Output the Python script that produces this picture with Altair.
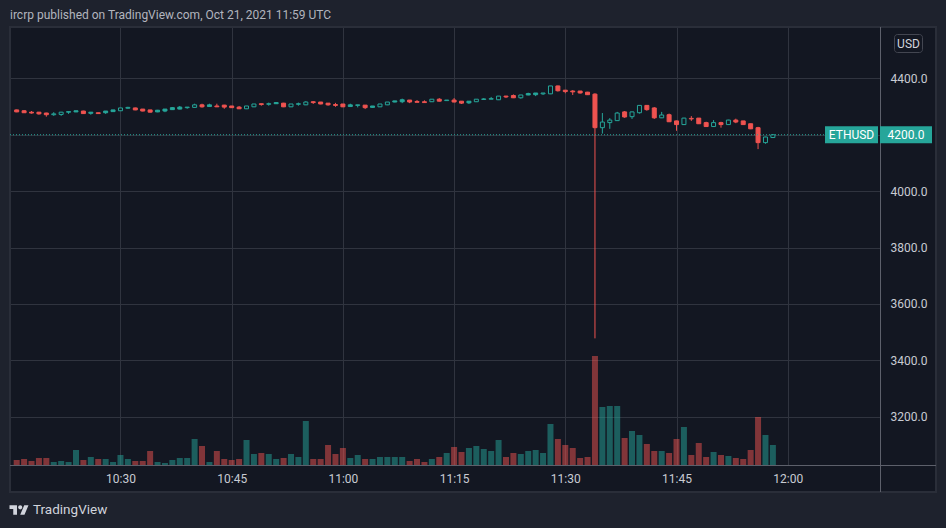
import altair as alt
import pandas as pd
import jinja2

# ---- data (ETHUSD 1-minute candles, 10:16 .. 11:58 UTC, Oct 21 2021) ----
open_ = [4288, 4285, 4280, 4280, 4277, 4271, 4272, 4282, 4285, 4284,
         4280, 4278, 4284, 4288, 4285, 4294, 4295, 4291, 4288, 4287,
         4291, 4296, 4298, 4296, 4297, 4306, 4306, 4302, 4305, 4302,
         4298, 4292, 4299, 4310, 4308, 4314, 4312, 4299, 4308, 4306,
         4317, 4316, 4312, 4307, 4309, 4306, 4304, 4305, 4302, 4299,
         4306, 4320, 4324, 4323, 4318, 4317, 4317, 4326, 4321, 4323,
         4319, 4319, 4317, 4325, 4326, 4324, 4337, 4339, 4331, 4346,
         4348, 4345, 4345, 4373, 4358, 4355, 4355, 4351, 4344, 4225,
         4243, 4250, 4281, 4264, 4278, 4304, 4295, 4260, 4271, 4249,
         4236, 4256, 4259, 4243, 4229, 4243, 4236, 4252, 4249, 4239,
         4225, 4172, 4190]
high = [4289, 4287, 4284, 4281, 4278, 4280, 4281, 4282, 4285, 4285,
        4280, 4278, 4284, 4288, 4295, 4299, 4296, 4291, 4288, 4288,
        4291, 4298, 4302, 4298, 4310, 4310, 4310, 4310, 4306, 4302,
        4302, 4302, 4309, 4310, 4314, 4316, 4313, 4309, 4314, 4319,
        4319, 4316, 4312, 4313, 4309, 4310, 4306, 4305, 4302, 4309,
        4316, 4320, 4328, 4323, 4323, 4322, 4326, 4330, 4323, 4330,
        4319, 4319, 4326, 4330, 4334, 4337, 4338, 4343, 4341, 4349,
        4348, 4348, 4373, 4374, 4358, 4358, 4355, 4352, 4347, 4277,
        4259, 4281, 4284, 4282, 4305, 4305, 4298, 4281, 4275, 4250,
        4260, 4266, 4259, 4246, 4252, 4246, 4253, 4257, 4249, 4239,
        4228, 4193, 4200]
low = [4280, 4277, 4275, 4271, 4264, 4267, 4267, 4274, 4280, 4274,
       4271, 4275, 4274, 4281, 4284, 4292, 4287, 4283, 4279, 4280,
       4280, 4288, 4290, 4292, 4296, 4296, 4299, 4298, 4292, 4295,
       4291, 4291, 4298, 4303, 4303, 4309, 4298, 4298, 4303, 4305,
       4309, 4308, 4303, 4299, 4298, 4299, 4297, 4291, 4296, 4298,
       4305, 4315, 4312, 4312, 4315, 4314, 4316, 4318, 4320, 4315,
       4309, 4309, 4316, 4325, 4326, 4323, 4330, 4330, 4328, 4340,
       4337, 4341, 4344, 4353, 4347, 4341, 4346, 4341, 3478, 4204,
       4221, 4249, 4260, 4256, 4275, 4285, 4256, 4259, 4245, 4214,
       4235, 4249, 4238, 4228, 4228, 4225, 4235, 4241, 4235, 4220,
       4149, 4168, 4189]
close = [4281, 4278, 4277, 4274, 4271, 4274, 4280, 4280, 4281, 4275,
         4276, 4275, 4278, 4282, 4295, 4297, 4288, 4284, 4280, 4281,
         4284, 4289, 4291, 4298, 4306, 4299, 4300, 4299, 4298, 4296,
         4292, 4302, 4309, 4307, 4310, 4310, 4299, 4309, 4310, 4316,
         4314, 4309, 4306, 4304, 4299, 4300, 4306, 4296, 4297, 4309,
         4316, 4316, 4317, 4316, 4315, 4314, 4326, 4319, 4323, 4316,
         4312, 4313, 4326, 4327, 4328, 4337, 4334, 4331, 4341, 4341,
         4342, 4348, 4373, 4356, 4353, 4352, 4348, 4342, 4225, 4245,
         4252, 4277, 4263, 4281, 4304, 4289, 4260, 4270, 4246, 4236,
         4259, 4258, 4239, 4229, 4243, 4236, 4252, 4245, 4236, 4221,
         4172, 4192, 4200]
volume = [5, 6, 4, 7, 7, 3, 4, 3, 15, 5,
          8, 6, 6, 3, 10, 6, 4, 4, 14, 3,
          2, 5, 7, 7, 26, 19, 3, 14, 6, 5,
          6, 25, 11, 12, 11, 6, 7, 11, 8, 44,
          6, 6, 20, 11, 17, 7, 10, 6, 6, 8,
          8, 8, 8, 4, 6, 3, 6, 8, 12, 18,
          13, 17, 19, 16, 14, 25, 8, 12, 11, 14,
          15, 12, 41, 26, 20, 17, 7, 8, 109, 58,
          59, 59, 27, 34, 30, 21, 14, 14, 12, 26,
          38, 10, 22, 8, 13, 10, 9, 7, 6, 15,
          48, 30, 20]
price_ticks = [3200, 3400, 3600, 3800, 4000, 4200, 4400]
time_ticks = ["10:30", "10:45", "11:00", "11:15", "11:30", "11:45", "12:00"]
first_candle = "2021-10-21 10:16"
view_start = "2021-10-21 10:15:46.400"
view_end = "2021-10-21 12:11:46.400"
symbol = "ETHUSD"
currency = "USD"
header = "ircrp published on TradingView.com, Oct 21, 2021 11:59 UTC"
brand = "TradingView"


def ms(s):
    return int(pd.Timestamp(s, tz="UTC").value // 1_000_000)


t0 = ms(first_candle)
df = pd.DataFrame({"t": [t0 + 60_000 * i for i in range(len(close))],
                   "open": open_, "high": high, "low": low,
                   "close": close, "volume": volume})
prev = df["close"].shift(1).fillna(df["open"])
df["dir"] = (df["close"] >= prev).map({True: "up", False: "down"})
df["body_hi"] = df[["open", "close"]].max(axis=1)
df["body_lo"] = df[["open", "close"]].min(axis=1)
df["fillkey"] = df["dir"].where(df["close"] < df["open"], "hollow")
last = df.tail(1)
last_close = float(close[-1])
one = pd.DataFrame({"k": [0]})

# ---- styles ----
UP, DOWN = "#26a69a", "#ef5350"
BG, OUT, BORDER = "#131722", "#1e222d", "#2a2e39"
GRID, SEP, TXT = "#30343f", "#5d606b", "#c8cbd3"
FONT = "Roboto"

xscale = alt.Scale(type="utc", domain=[ms(view_start), ms(view_end)], nice=False)
xaxis = alt.Axis(title=None, labelExpr="utcFormat(datum.value, '%H:%M')",
                 values=[ms("2021-10-21 " + s) for s in time_ticks],
                 grid=True, gridColor=GRID, gridWidth=1, ticks=False, tickSize=0,
                 domain=False, labelColor=TXT, labelFont=FONT, labelFontSize=12,
                 labelBaseline="middle", labelPadding=13, labelFlush=False)
X = alt.X("t:T", scale=xscale, axis=xaxis)

yscale = alt.Scale(domain=[3029, 4582], nice=False, zero=False)
# the label of the tick hidden behind the last-price tag is left blank
yaxis = alt.Axis(title=None, orient="right", values=price_ticks,
                 labelExpr=f"abs(datum.value - {last_close}) < 20 ? '' : format(datum.value, '.1f')",
                 grid=True, gridColor=GRID, gridWidth=1, ticks=False, tickSize=0,
                 domain=False, labelColor=TXT, labelFont=FONT, labelFontSize=12,
                 labelAlign="left", labelBaseline="middle", labelPadding=10)


def Yp(field, show=False):
    return alt.Y(field, scale=yscale, axis=yaxis if show else None)


dir_scale = alt.Scale(domain=["up", "down"], range=[UP, DOWN])
fill_scale = alt.Scale(domain=["up", "down", "hollow"], range=[UP, DOWN, BG])

base = alt.Chart(df)

volume_layer = base.mark_bar(size=6, opacity=0.5).encode(
    x=X,
    y=alt.Y("volume:Q", scale=alt.Scale(domain=[0, 438], nice=False), axis=None),
    color=alt.Color("dir:N", scale=dir_scale, legend=None),
)
wicks = base.mark_rule(strokeWidth=1).encode(
    x=X, y=Yp("low:Q", True), y2="high:Q",
    color=alt.Color("dir:N", scale=dir_scale, legend=None),
)
bodies = base.mark_bar(size=4, strokeWidth=1).encode(
    x=X, y=Yp("body_hi:Q"), y2="body_lo:Q",
    fill=alt.Fill("fillkey:N", scale=fill_scale, legend=None),
    stroke=alt.Stroke("dir:N", scale=dir_scale, legend=None),
)
lastline = alt.Chart(last).mark_rule(color=UP, strokeDash=[1, 2], strokeWidth=1).encode(
    x=alt.value(0), x2=alt.value(815), y=Yp("close:Q"))
TAG1 = "M-3.118,-1H3.118V1H-3.118Z"
TAG2 = "M-3.06,-1H3.06V1H-3.06Z"
tag1 = alt.Chart(last).mark_point(shape=TAG1, size=289, filled=True, opacity=1,
                                  color=UP, strokeWidth=0).encode(
    x=alt.value(841.5), y=Yp("close:Q"))
tag2 = alt.Chart(last).mark_point(shape=TAG2, size=289, filled=True, opacity=1,
                                  color=UP, strokeWidth=0).encode(
    x=alt.value(896), y=Yp("close:Q"))
tag1_txt = alt.Chart(last).mark_text(color="#ffffff", font=FONT, fontSize=12,
                                     baseline="middle").encode(
    x=alt.value(841.5), y=Yp("close:Q"), text=alt.value(symbol))
tag2_txt = alt.Chart(last).mark_text(color="#ffffff", font=FONT, fontSize=12,
                                     baseline="middle").encode(
    x=alt.value(896), y=Yp("close:Q"), text=alt.Text("close:Q", format=".1f"))

# ---- frame decoration ----
d = alt.Chart(one)
band_top = d.mark_rect(color=OUT).encode(x=alt.value(-2), x2=alt.value(928), y=alt.value(-19), y2=alt.value(0))
band_bot = d.mark_rect(color=OUT).encode(x=alt.value(-2), x2=alt.value(928), y=alt.value(465), y2=alt.value(493))
band_l = d.mark_rect(color=OUT).encode(x=alt.value(-2), x2=alt.value(0), y=alt.value(0), y2=alt.value(465))
band_r = d.mark_rect(color=OUT).encode(x=alt.value(926), x2=alt.value(928), y=alt.value(0), y2=alt.value(465))
pane = d.mark_rect(filled=False, stroke=BORDER, strokeWidth=2).encode(
    x=alt.value(0), x2=alt.value(926), y=alt.value(0), y2=alt.value(465))
sep_v = d.mark_rule(color=SEP, strokeWidth=1).encode(x=alt.value(870.5), y=alt.value(0), y2=alt.value(465))
sep_h = d.mark_rule(color=SEP, strokeWidth=1).encode(x=alt.value(0), x2=alt.value(926), y=alt.value(438.5))
usd_box = d.mark_rect(cornerRadius=3, fill=BG, stroke="#434651", strokeWidth=1).encode(
    x=alt.value(884.5), x2=alt.value(912.5), y=alt.value(7.5), y2=alt.value(25.5))
usd_txt = d.mark_text(color="#d1d4dc", font=FONT, fontSize=12, baseline="middle").encode(
    x=alt.value(898.5), y=alt.value(16.5), text=alt.value(currency))
title_txt = d.mark_text(color="#b2b5be", font=FONT, fontSize=12, align="left", baseline="middle").encode(
    x=alt.value(0), y=alt.value(-12), text=alt.value(header))
LOGO = ("M-17.75,-9H-3.75V9H-10.75V-2H-17.75Z "
        "M2.25,9L9.75,-9H17.75L10.25,9Z "
        "M6.25,-5L5.08,-2.17L2.25,-1L-0.58,-2.17L-1.75,-5L-0.58,-7.83L2.25,-9L5.08,-7.83Z")
logo = d.mark_point(shape=LOGO, size=1.145, filled=True, opacity=1, color="#d1d4dc", strokeWidth=0).encode(
    x=alt.value(9), y=alt.value(483))
brand_txt = d.mark_text(color="#d1d4dc", font=FONT, fontSize=13.5, align="left", baseline="middle").encode(
    x=alt.value(23), y=alt.value(483), text=alt.value(brand))

chart = alt.layer(
    band_top, band_bot, band_l, band_r, pane, sep_v, sep_h,
    volume_layer, wicks, bodies, lastline, tag1, tag2, tag1_txt, tag2_txt,
    usd_box, usd_txt, title_txt, logo, brand_txt,
).resolve_scale(y="independent").properties(
    width=870, height=438,
    autosize=alt.AutoSizeParams(type="none"),
    padding={"left": 2, "top": 19, "right": 58, "bottom": 55},
).configure(background=BG).configure_view(strokeWidth=0)

TEMPLATE = jinja2.Template("""<!DOCTYPE html>
<html>
<head>
  <style>
    html, body { background: #1e222d; }
    #{{ output_div }}.vega-embed { width: 100%; display: flex; }
  </style>
  <script type="text/javascript" src="{{ base_url }}/vega@{{ vega_version }}"></script>
  <script type="text/javascript" src="{{ base_url }}/vega-lite@{{ vegalite_version }}"></script>
  <script type="text/javascript" src="{{ base_url }}/vega-embed@{{ vegaembed_version }}"></script>
</head>
<body>
  <div id="{{ output_div }}"></div>
  <script>
    (function(vegaEmbed) {
      var spec = {{ spec }};
      var embedOpt = {{ embed_options }};
      vegaEmbed("#{{ output_div }}", spec, embedOpt);
    })(vegaEmbed);
  </script>
</body>
</html>""")

try:
    chart.save("out.html", embed_options={"renderer": "svg", "actions": False}, template=TEMPLATE)
except Exception:
    chart.save("out.html", embed_options={"renderer": "svg", "actions": False})
